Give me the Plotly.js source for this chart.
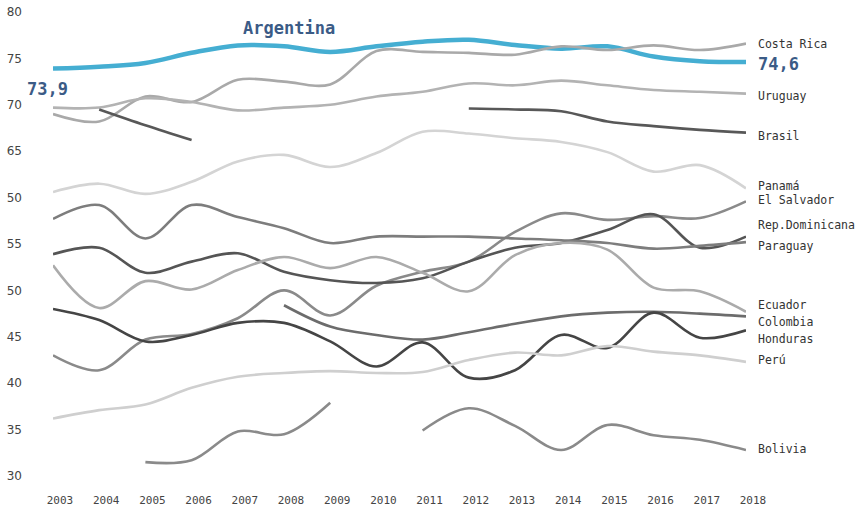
<!DOCTYPE html>
<html><head><meta charset="utf-8">
<script src="https://cdn.plot.ly/plotly-3.0.1.min.js"></script>
<style>html,body{margin:0;padding:0;background:#fff}#chart{width:858px;height:509px}</style>
</head><body><div id="chart"></div>
<script>
const years = [2003,2004,2005,2006,2007,2008,2009,2010,2011,2012,2013,2014,2015,2016,2017,2018];

const argentina   = [73.9,74.1,74.5,75.6,76.4,76.3,75.7,76.3,76.8,77.0,76.45,76.05,76.3,75.2,74.7,74.6];
const costaRica   = [69.0,68.2,70.9,70.3,72.7,72.5,72.2,75.8,75.7,75.6,75.4,76.3,75.9,76.4,75.9,76.6];
const uruguay     = [69.7,69.7,70.7,70.3,69.4,69.7,70.0,70.9,71.4,72.3,72.1,72.6,72.1,71.6,71.4,71.2];
const brasil      = [null,69.5,67.8,66.2,null,null,null,null,null,69.6,69.5,69.3,68.2,67.7,67.3,67.0];
const panama      = [60.6,61.5,60.4,61.7,63.9,64.6,63.3,64.8,67.1,66.9,66.4,66.0,64.9,62.8,63.5,61.0];
const elSalvador  = [43.0,41.4,44.7,45.3,47.0,50.0,47.3,50.5,52.0,53.1,56.3,58.3,57.6,58.0,57.8,59.6];
const repDom      = [53.9,54.6,51.9,53.1,54.0,52.0,51.1,50.8,51.3,53.1,54.6,55.1,56.5,58.2,54.6,55.8];
const paraguay    = [57.7,59.2,55.6,59.2,57.9,56.7,55.1,55.8,55.8,55.8,55.6,55.4,55.1,54.5,54.8,55.2];
const ecuador     = [52.7,48.1,51.0,50.1,52.2,53.6,52.4,53.6,51.9,49.9,53.8,55.1,54.4,50.3,49.9,47.7];
const colombia    = [null,null,null,null,null,48.4,46.1,45.2,44.7,45.5,46.4,47.2,47.6,47.7,47.5,47.2];
const honduras    = [48.0,46.8,44.5,45.2,46.5,46.5,44.5,41.8,44.4,40.6,41.4,45.2,43.8,47.6,44.9,45.7];
const peru        = [36.2,37.1,37.7,39.5,40.7,41.1,41.3,41.1,41.2,42.5,43.3,43.0,44.0,43.4,43.0,42.3];
const bolivia     = [null,null,31.5,31.7,34.8,34.5,37.9,null,34.9,37.3,35.4,32.8,35.5,34.4,33.9,32.8];

const yTickVals = [30,35,40,45,50,55,60,65,70,75,80];
const yTickText = ["30","35","40","45","50","55","50","65","70","75","80"];

const countries = [
  {name:"Costa Rica",      data:costaRica,  color:"#a9a9a9", shift:0},
  {name:"Uruguay",         data:uruguay,    color:"#b3b3b3", shift:-2},
  {name:"Brasil",          data:brasil,     color:"#585858", shift:-3},
  {name:"Panamá",          data:panama,     color:"#d4d4d4", shift:2},
  {name:"El Salvador",     data:elSalvador, color:"#8a8a8a", shift:1},
  {name:"Rep.Dominicana",  data:repDom,     color:"#555555", shift:12},
  {name:"Paraguay",        data:paraguay,   color:"#7d7d7d", shift:-4},
  {name:"Ecuador",         data:ecuador,    color:"#ababab", shift:7},
  {name:"Colombia",        data:colombia,   color:"#6c6c6c", shift:-6},
  {name:"Honduras",        data:honduras,   color:"#454545", shift:-9},
  {name:"Perú",            data:peru,       color:"#cfcfcf", shift:2},
  {name:"Bolivia",         data:bolivia,    color:"#8a8a8a", shift:1}
];

const blue = "#45aed2";
const navy = "#3b5b86";
const mono = "DejaVu Sans Mono, monospace";

const traces = [{
  x: years, y: argentina, mode: "lines", name: "Argentina",
  line: {color: blue, width: 4.5, shape: "spline", smoothing: 1},
  connectgaps: false
}];
countries.forEach(c => {
  traces.push({
    x: years, y: c.data, mode: "lines", name: c.name,
    line: {color: c.color, width: 2.6, shape: "spline", smoothing: 1},
    connectgaps: false
  });
});

const fmt = v => v.toFixed(1).replace(".", ",");
const last = arr => arr[arr.length - 1];

const annotations = countries.map(c => ({
  x: years[years.length - 1], y: last(c.data), xref: "x", yref: "y",
  text: c.name, showarrow: false, xanchor: "left", yanchor: "middle",
  xshift: 10, yshift: c.shift,
  font: {family: mono, size: 11.5, color: "#333333"}
}));
annotations.push({
  x: years[years.length - 1], y: last(argentina), xref: "x", yref: "y",
  text: "<b>" + fmt(last(argentina)) + "</b>", showarrow: false,
  xanchor: "left", yanchor: "middle", xshift: 10, yshift: -2,
  font: {family: mono, size: 17, color: navy}
});
annotations.push({
  x: years[0], y: argentina[0], xref: "x", yref: "y",
  text: "<b>" + fmt(argentina[0]) + "</b>", showarrow: false,
  xanchor: "center", yanchor: "middle", xshift: -6, yshift: -20,
  font: {family: mono, size: 17, color: navy}
});
annotations.push({
  x: 0.341, y: 0.966, xref: "paper", yref: "paper",
  text: "<b>Argentina</b>", showarrow: false,
  xanchor: "center", yanchor: "middle",
  font: {family: mono, size: 17, color: navy}
});

const layout = {
  width: 858, height: 509,
  margin: {l: 53, r: 112, t: 12, b: 33},
  paper_bgcolor: "#ffffff", plot_bgcolor: "#ffffff",
  showlegend: false,
  xaxis: {
    range: [2003, 2018], tickvals: years, ticktext: years.map(String),
    showgrid: false, zeroline: false, showline: false, ticks: "",
    ticklabelstandoff: 16, ticklabelshift: 7,
    tickfont: {family: mono, size: 11, color: "#444444"}
  },
  yaxis: {
    range: [30, 80], tickvals: yTickVals, ticktext: yTickText,
    showgrid: false, zeroline: false, showline: false, ticks: "",
    ticklabelstandoff: 30,
    tickfont: {family: "DejaVu Sans, sans-serif", size: 12, color: "#444444"}
  },
  annotations: annotations
};

Plotly.newPlot("chart", traces, layout, {displayModeBar: false, staticPlot: true});
</script></body></html>
